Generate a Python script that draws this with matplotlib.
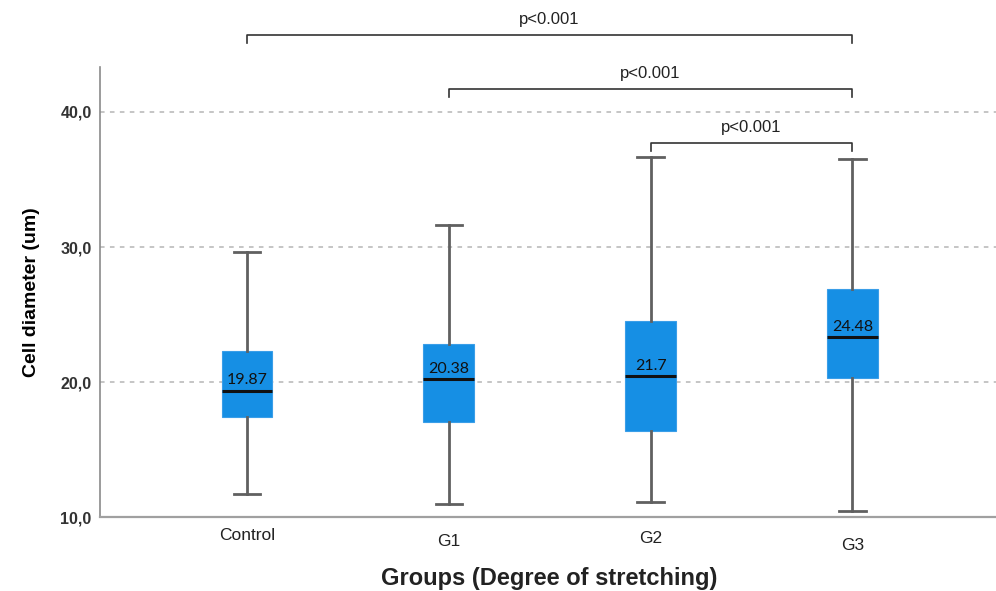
import matplotlib
matplotlib.use("Agg")
import matplotlib.pyplot as plt

# valores (um)
groups = ["Control", "G1", "G2", "G3"]
whisker_low = [11.7, 11.0, 11.1, 10.5]
q1 = [17.4, 17.06, 16.4, 20.3]
medians = [19.36, 20.24, 20.44, 23.33]
q3 = [22.34, 22.8, 24.5, 26.9]
whisker_high = [29.6, 31.6, 36.7, 36.55]
means = ["19.87", "20.38", "21.7", "24.48"]

# comparacoes (indice a, indice b, altura, texto)
comparisons = [(0, 3, 45.7, "p<0.001"), (1, 3, 41.7, "p<0.001"), (2, 3, 37.7, "p<0.001")]
label_dy = [0.0, -0.45, -0.25, -0.75]  # labels do eixo x levemente desalinhados

plt.rcParams["font.family"] = ["Liberation Sans", "DejaVu Sans"]

fig = plt.figure(figsize=(9.96, 5.91), dpi=100, facecolor="white")
ax = fig.add_axes([0.1004, 0.1247, 0.8996, 0.7614])

stats = []
for i, g in enumerate(groups):
    stats.append({
        "label": g,
        "whislo": whisker_low[i],
        "q1": q1[i],
        "med": medians[i],
        "q3": q3[i],
        "whishi": whisker_high[i],
        "fliers": [],
    })

ax.bxp(
    stats,
    positions=range(len(groups)),
    widths=0.25,
    patch_artist=True,
    showfliers=False,
    boxprops={"facecolor": "#168fe4", "edgecolor": "#3a9ee8", "linewidth": 0.8},
    medianprops={"color": "#111111", "linewidth": 2.2},
    whiskerprops={"color": "#606060", "linewidth": 2.0},
    capprops={"color": "#606060", "linewidth": 2.0},
    capwidths=0.13,
    zorder=3,
)

for i, m in enumerate(means):
    ax.text(i, medians[i] + 0.25, m, ha="center", va="bottom", fontsize=11.5,
            family=["Lato", "DejaVu Sans"], color="#111111", zorder=4)

ax.set_xlim(-0.727, 3.711)
ax.set_ylim(10, 43.3)
ax.set_yticks([10, 20, 30, 40])
ax.set_yticklabels(["10,0", "20,0", "30,0", "40,0"], fontsize=11.5, fontweight="bold", color="#333333")
ax.tick_params(axis="y", length=0, pad=6)
ax.set_xticks([])

for i, g in enumerate(groups):
    ax.text(i, 8.65 + label_dy[i], g, ha="center", va="center", fontsize=12.5, color="#222222", clip_on=False)

for y in [20, 30, 40]:
    ax.axhline(y, color="#b5b5b5", linestyle=(0, (3, 3.5)), linewidth=1.1, zorder=1)

for side in ["top", "right"]:
    ax.spines[side].set_visible(False)
ax.spines["left"].set_color("#8a8a8a")
ax.spines["bottom"].set_color("#a0a0a0")
ax.spines["left"].set_linewidth(1.2)
ax.spines["bottom"].set_linewidth(1.6)

ax.set_ylabel("Cell diameter (um)", fontsize=14, fontweight="bold", labelpad=15)
fig.text(0.551, 0.021, "Groups (Degree of stretching)", ha="center", va="center",
         fontsize=17, fontweight="bold", color="#222222")

for a, b, h, txt in comparisons:
    ax.plot([a, a, b, b], [h - 0.6, h, h, h - 0.6], color="#333333", linewidth=1.2, clip_on=False)
    ax.text((a + b) / 2, h + 0.6, txt, ha="center", va="bottom", fontsize=12,
            color="#222222", clip_on=False)

fig.savefig("out.png", dpi=100, facecolor="white")
